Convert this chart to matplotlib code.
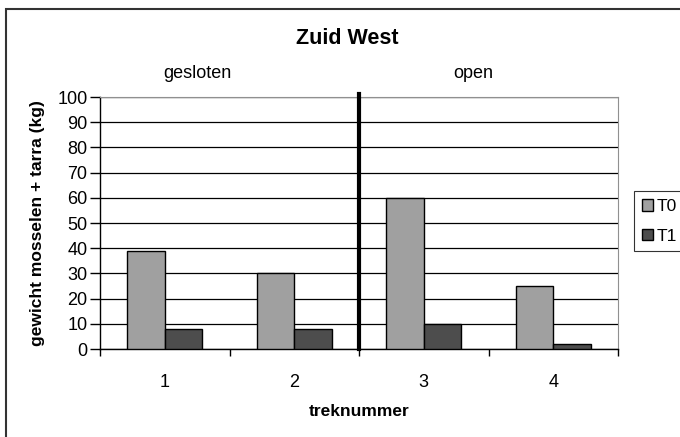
import numpy as np
import matplotlib.pyplot as plt
from matplotlib.patches import Rectangle

plt.rcParams['font.family'] = ['Liberation Sans', 'DejaVu Sans']

categories = ['1', '2', '3', '4']
t0 = [39, 30, 60, 25]
t1 = [8, 8, 10, 2]
series_names = ['T0', 'T1']
groups = ['gesloten', 'open']
yticks = list(range(0, 101, 10))

fig = plt.figure(figsize=(6.8, 4.37), dpi=100)
ax = fig.add_axes([100 / 680, 1 - 349 / 437, 518 / 680, 252 / 437])

x = np.arange(1, len(categories) + 1)
w = 0.29
ax.bar(x - w / 2, t0, w, color='#a0a0a0', edgecolor='black', linewidth=1, label=series_names[0], zorder=3)
ax.bar(x + w / 2, t1, w, color='#4d4d4d', edgecolor='black', linewidth=1, label=series_names[1], zorder=3)

ax.set_xlim(0.5, len(categories) + 0.5)
ax.set_ylim(0, 100)
ax.set_yticks(yticks)
ax.tick_params(axis='y', labelsize=13, length=7, width=1, pad=2, color='black')
ax.set_xticks(x)
ax.set_xticklabels(categories)
ax.tick_params(axis='x', which='major', length=0, labelsize=13, pad=18)
ax.set_xticks(np.arange(0.5, len(categories) + 1), minor=True)
ax.tick_params(axis='x', which='minor', length=5, width=1, color='black')

ax.yaxis.grid(True, color='black', linewidth=0.9, zorder=0)
ax.set_axisbelow(True)
for s in ['top', 'right']:
    ax.spines[s].set_color('#909090')
for s in ['left', 'bottom']:
    ax.spines[s].set_color('black')
    ax.spines[s].set_linewidth(1)

# separator between closed and open
ax.axvline(2.5, ymin=0, ymax=1.012, color='black', linewidth=3, clip_on=False, zorder=4)

ax.set_ylabel('gewicht mosselen + tarra (kg)', fontsize=12.5, fontweight='bold', labelpad=9)
ax.set_xlabel('treknummer', fontsize=12.5, fontweight='bold', labelpad=9)

trans = ax.get_xaxis_transform()
ax.text(1.25, 1.095, groups[0], transform=trans, ha='center', va='center', fontsize=13)
ax.text(3.38, 1.095, groups[1], transform=trans, ha='center', va='center', fontsize=13)

fig.text(347 / 680, 1 - 38 / 437, 'Zuid West', ha='center', va='center', fontsize=15.5, fontweight='bold')

leg = fig.legend(loc='upper left', bbox_to_anchor=(634 / 680, 1 - 191 / 437), fontsize=12.5,
                 frameon=True, fancybox=False, edgecolor='black', handlelength=0.65, handleheight=0.65,
                 handletextpad=0.2, borderpad=0.45, borderaxespad=0, labelspacing=0.85)
leg.get_frame().set_linewidth(0.8)

fig.patches.append(Rectangle((6 / 680, -0.1), 1.2, 1.1 - 9 / 437, transform=fig.transFigure,
                             fill=False, edgecolor='#333333', linewidth=1.5))

fig.savefig('out.png', dpi=100)
